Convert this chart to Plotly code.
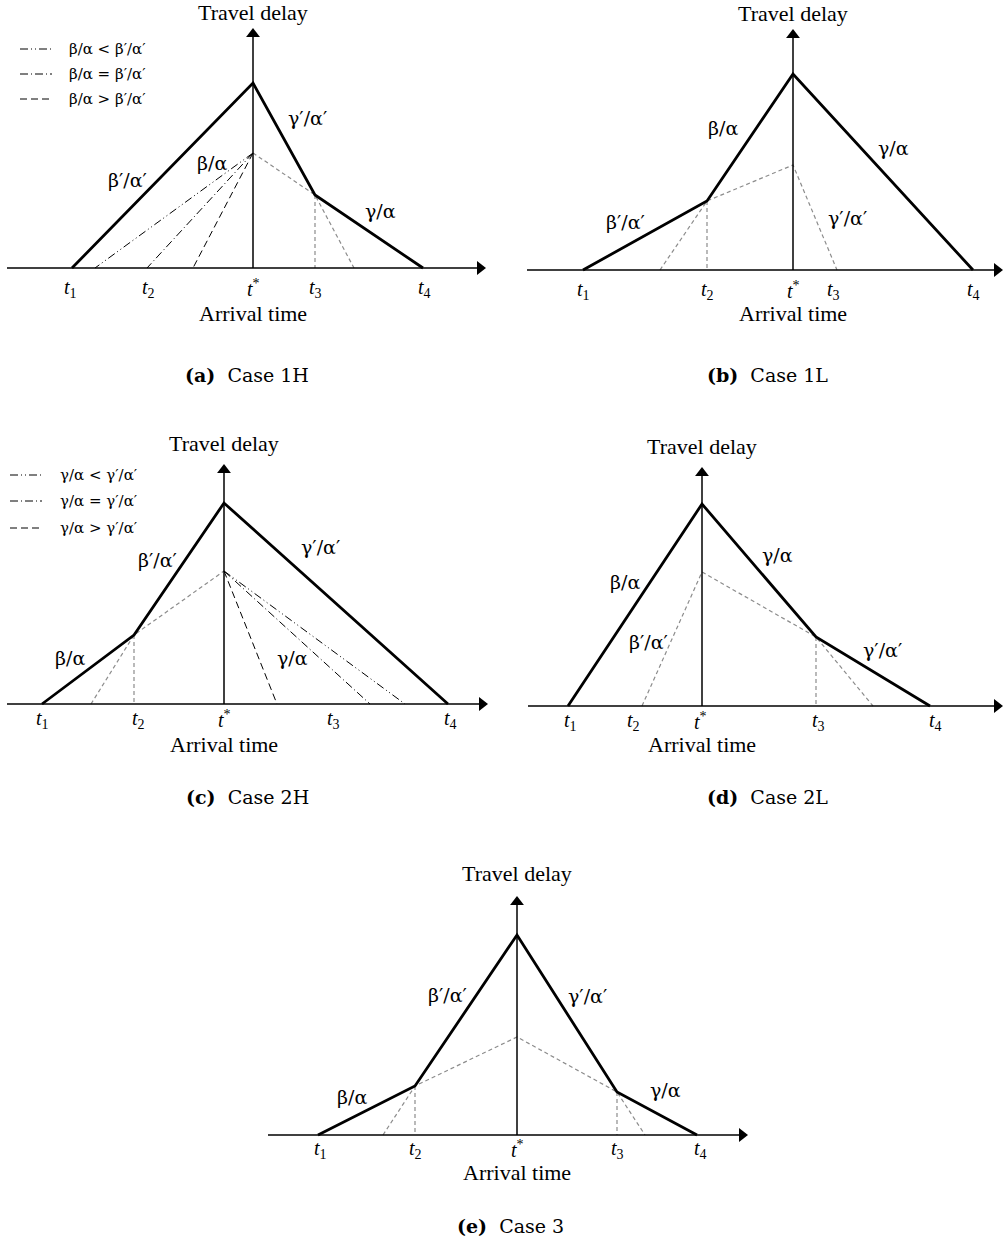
import plotly.graph_objects as go

W, H = 1003, 1251
SERIF = "Liberation Serif"
GREEK = "DejaVu Serif"
CAPTION_FONT = "DejaVu Serif"

# ---- data (time relative to t*, travel delay relative to the time axis) ----
tick_text = ["<i>t</i><sub>1</sub>", "<i>t</i><sub>2</sub>", "<i>t</i><sup>*</sup>",
             "<i>t</i><sub>3</sub>", "<i>t</i><sub>4</sub>"]

# Case 1H
c1h_x = [-181, 0, 62, 170]
c1h_y = [0, 185, 73, 0]
c1h_grey = [([0, 62, 101], [115, 73, 0]), ([62, 62], [73, 0])]
c1h_fan_top = [0, 115]
c1h_fan_end = [-158, -106, -60]
c1h_ticks = [-183, -105, 0, 62, 171]
c1h_labels = ["β′/α′", "β/α", "γ′/α′", "γ/α"]
c1h_label_pos = [(-126, 88), (-41, 105), (54, 150), (127, 57)]
c1h_legend = ["β/α < β′/α′", "β/α = β′/α′", "β/α > β′/α′"]

# Case 1L
c1l_x = [-210, -86, 0, 180]
c1l_y = [0, 69, 196, 0]
c1l_grey = [([-133, -86, 0, 44], [0, 69, 105, 0]), ([-86, -86], [69, 0])]
c1l_ticks = [-210, -86, 0, 40, 180]
c1l_labels = ["β/α", "γ/α", "β′/α′", "γ′/α′"]
c1l_label_pos = [(-70, 142), (100, 122), (-168, 48), (54, 52)]

# Case 2H
c2h_x = [-182, -90, 0, 224]
c2h_y = [0, 69, 201, 0]
c2h_grey = [([-133, -90, 0], [0, 69, 133]), ([-90, -90], [69, 0])]
c2h_fan_top = [0, 133]
c2h_fan_end = [181, 146, 53]
c2h_ticks = [-182, -86, 0, 109, 226]
c2h_labels = ["β/α", "β′/α′", "γ′/α′", "γ/α"]
c2h_label_pos = [(-154, 46), (-67, 144), (96, 157), (68, 46)]
c2h_legend = ["γ/α < γ′/α′", "γ/α = γ′/α′", "γ/α > γ′/α′"]

# Case 2L
c2l_x = [-134, 0, 114, 228]
c2l_y = [0, 202, 69, 0]
c2l_grey = [([-60, 0, 114, 171], [0, 134, 69, 0]), ([114, 114], [69, 0])]
c2l_ticks = [-132, -69, -2, 116, 233]
c2l_labels = ["β/α", "γ/α", "β′/α′", "γ′/α′"]
c2l_label_pos = [(-77, 124), (75, 151), (-54, 64), (180, 56)]

# Case 3
c3_x = [-199, -102, 0, 100, 180]
c3_y = [0, 49, 200, 43, 0]
c3_grey = [([-134, -102, 0, 100, 128], [0, 49, 98, 43, 0]),
           ([-102, -102], [49, 0]), ([100, 100], [43, 0])]
c3_ticks = [-197, -102, 0, 100, 183]
c3_labels = ["β/α", "β′/α′", "γ′/α′", "γ/α"]
c3_label_pos = [(-165, 38), (-70, 140), (70, 139), (148, 45)]

captions = ["<b>(a)</b>&nbsp;&nbsp;Case 1H", "<b>(b)</b>&nbsp;&nbsp;Case 1L",
            "<b>(c)</b>&nbsp;&nbsp;Case 2H", "<b>(d)</b>&nbsp;&nbsp;Case 2L",
            "<b>(e)</b>&nbsp;&nbsp;Case 3"]

fan_dashes = ["8px,3px,1px,3px,1px,3px", "8px,3px,1px,3px", "7px,4px"]

# panel placement: box in pixels, origin of the two axes, axis extents
panels = [
    dict(box=(0, 0, 501, 400), origin=(253, 268), xspan=(-246, 232), ytip=239,
         main=(c1h_x, c1h_y), grey=c1h_grey, ticks=c1h_ticks, labels=c1h_labels,
         label_pos=c1h_label_pos, tick_y=-20, td=256, at=-45,
         fan=(c1h_fan_top, c1h_fan_end), legend=c1h_legend,
         leg_x=(-233, -201, -186), leg_y=[219, 194, 169], cap=(247, 375)),
    dict(box=(501, 0, 1003, 400), origin=(793, 270), xspan=(-266, 209), ytip=240,
         main=(c1l_x, c1l_y), grey=c1l_grey, ticks=c1l_ticks, labels=c1l_labels,
         label_pos=c1l_label_pos, tick_y=-20, td=257, at=-43, cap=(767, 375)),
    dict(box=(0, 420, 501, 800), origin=(224, 704), xspan=(-217, 263), ytip=239,
         main=(c2h_x, c2h_y), grey=c2h_grey, ticks=c2h_ticks, labels=c2h_labels,
         label_pos=c2h_label_pos, tick_y=-15, td=261, at=-40,
         fan=(c2h_fan_top, c2h_fan_end), legend=c2h_legend,
         leg_x=(-214, -182, -166), leg_y=[229, 203, 176], cap=(247, 797)),
    dict(box=(501, 420, 1003, 800), origin=(702, 706), xspan=(-174, 300), ytip=238,
         main=(c2l_x, c2l_y), grey=c2l_grey, ticks=c2l_ticks, labels=c2l_labels,
         label_pos=c2l_label_pos, tick_y=-15, td=260, at=-38, cap=(767, 797)),
    dict(box=(251, 840, 752, 1200), origin=(517, 1135), xspan=(-249, 230), ytip=238,
         main=(c3_x, c3_y), grey=c3_grey, ticks=c3_ticks, labels=c3_labels,
         label_pos=c3_label_pos, tick_y=-14, td=262, at=-37, cap=(511, 1226)),
]

fig = go.Figure()
annotations = []
layout = {}


def add_line(xref, yref, x, y, color="black", width=1.0, dash="solid"):
    fig.add_trace(go.Scatter(x=x, y=y, xaxis=xref, yaxis=yref, mode="lines",
                             line=dict(color=color, width=width, dash=dash),
                             hoverinfo="skip", showlegend=False))


def add_text(xref, yref, x, y, text, size=20, family=SERIF, **kw):
    annotations.append(dict(x=x, y=y, xref=xref, yref=yref, text=text, showarrow=False,
                            font=dict(family=family, size=size, color="black"), **kw))


for i, p in enumerate(panels):
    n = "" if i == 0 else str(i + 1)
    xr, yr = "x" + n, "y" + n
    bx0, by0, bx1, by1 = p["box"]
    ox, oy = p["origin"]
    layout["xaxis" + n] = dict(domain=[bx0 / W, bx1 / W], range=[bx0 - ox, bx1 - ox],
                               visible=False, anchor=yr, fixedrange=True)
    layout["yaxis" + n] = dict(domain=[1 - by1 / H, 1 - by0 / H], range=[oy - by1, oy - by0],
                               visible=False, anchor=xr, fixedrange=True)

    # grey construction lines
    for gx, gy in p["grey"]:
        add_line(xr, yr, gx, gy, color="#8c8c8c", width=1.2, dash="4px,3px")

    # alternative slopes
    if "fan" in p:
        top, ends = p["fan"]
        for end, d in zip(ends, fan_dashes):
            add_line(xr, yr, [top[0], end], [top[1], 0], width=1.0, dash=d)
        lx0, lx1, tx = p["leg_x"]
        for ly, d, txt in zip(p["leg_y"], fan_dashes, p["legend"]):
            add_line(xr, yr, [lx0, lx1], [ly, ly], width=1.0, dash=d)
            add_text(xr, yr, tx, ly, txt, size=15, family=GREEK, xanchor="left")

    # axes with arrows
    x0, x1 = p["xspan"]
    add_line(xr, yr, [x0, x1 - 6], [0, 0], width=1.5)
    add_line(xr, yr, [0, 0], [0, p["ytip"] - 6], width=1.5)
    fig.add_trace(go.Scatter(x=[x1 - 5], y=[0], xaxis=xr, yaxis=yr, mode="markers",
                             marker=dict(symbol="triangle-right", size=12, color="black"),
                             hoverinfo="skip", showlegend=False))
    fig.add_trace(go.Scatter(x=[0], y=[p["ytip"] - 5], xaxis=xr, yaxis=yr, mode="markers",
                             marker=dict(symbol="triangle-up", size=12, color="black"),
                             hoverinfo="skip", showlegend=False))

    # travel delay curve
    add_line(xr, yr, p["main"][0], p["main"][1], width=2.8)

    # texts
    for tx, tt in zip(p["ticks"], tick_text):
        add_text(xr, yr, tx, p["tick_y"], tt, size=20)
    for (lx, ly), lt in zip(p["label_pos"], p["labels"]):
        add_text(xr, yr, lx, ly, lt, size=19, family=GREEK)
    add_text(xr, yr, 0, p["td"], "Travel delay", size=22)
    add_text(xr, yr, 0, p["at"], "Arrival time", size=22)

    cx, cy = p["cap"]
    annotations.append(dict(x=cx / W, y=1 - cy / H, xref="paper", yref="paper",
                            xanchor="center", yanchor="middle",
                            text=captions[i], showarrow=False,
                            font=dict(family=CAPTION_FONT, size=19, color="black")))

fig.update_layout(width=W, height=H, margin=dict(l=0, r=0, t=0, b=0),
                  paper_bgcolor="white", plot_bgcolor="white",
                  showlegend=False, annotations=annotations, **layout)

fig.write_html("out.html", config={"displayModeBar": False},
               post_script="document.body.style.margin='0';")
